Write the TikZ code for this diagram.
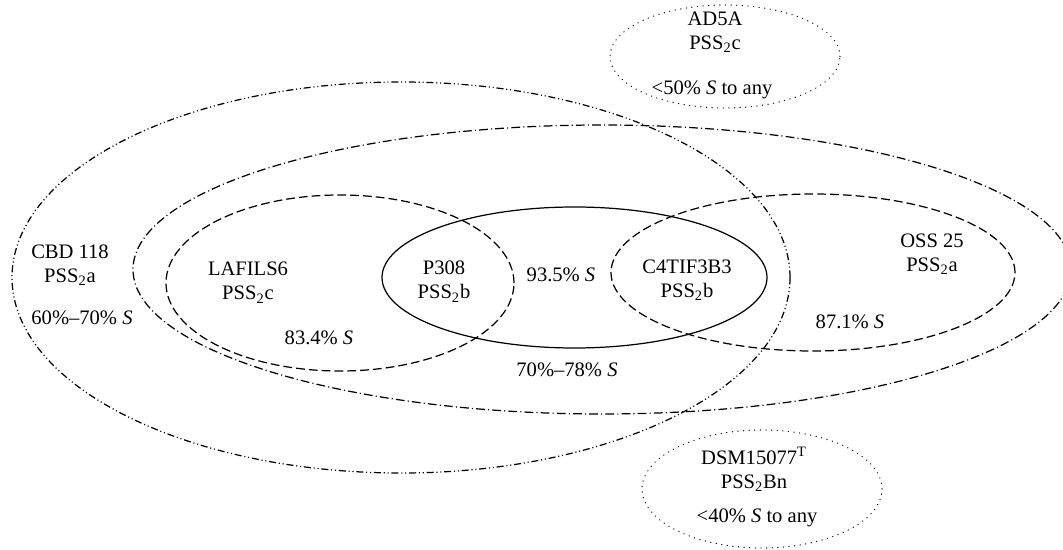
\documentclass[tikz,border=0pt]{standalone}
\usepackage{fontspec}
\setmainfont{Liberation Serif}
\usepackage{tikz}
\tikzstyle{strain} = [align=center, inner sep=0pt, font=\fontsize{11.7}{13.8}\selectfont]
\tikzstyle{solidset} = [line width=0.7pt]
\tikzstyle{dashset} = [line width=0.7pt, dash pattern=on 5pt off 2.3pt]
\tikzstyle{dotset} = [line width=0.7pt, line cap=round, dash pattern=on 0.1pt off 3.1pt]
\tikzstyle{dashdotset} = [line width=0.7pt, dash pattern=on 5pt off 1.8pt on 0.6pt off 1.8pt]
\tikzstyle{dashdotdotset} = [line width=0.7pt, dash pattern=on 4pt off 1.6pt on 0.6pt off 1.6pt on 0.6pt off 1.6pt]

\begin{document}
\begin{tikzpicture}
  \useasboundingbox (0,0) rectangle (21.26,-11);
  \clip (0,0) rectangle (21.26,-11);

  % sets
  \draw[dashdotdotset] (8.02,-5.55) ellipse [x radius=7.78cm, y radius=3.91cm];
  \draw[dashdotset] (12.04,-5.39) ellipse [x radius=9.38cm, y radius=2.89cm];
  \draw[dashset] (6.80,-5.66) ellipse [x radius=3.48cm, y radius=1.76cm];
  \draw[solidset] (11.49,-5.55) ellipse [x radius=3.85cm, y radius=1.41cm];
  \draw[dashset] (16.26,-5.45) ellipse [x radius=4.04cm, y radius=1.57cm];
  \draw[dotset] (14.50,-1.13) ellipse [x radius=2.30cm, y radius=1.03cm];
  \draw[dotset] (15.24,-9.78) ellipse [x radius=2.40cm, y radius=1.18cm];

  % strains
  \node[strain] (CBD) at (1.40,-5.30) {CBD 118\\PSS\textsubscript{2}a};
  \node[strain] (CBD_S) at (1.64,-6.36) {60\%--70\% \textit{S}};
  \node[strain] (LAF) at (4.96,-5.65) {LAFILS6\\PSS\textsubscript{2}c};
  \node[strain] (LAF_S) at (6.38,-6.76) {83.4\% \textit{S}};
  \node[strain] (P308) at (8.88,-5.63) {P308\\PSS\textsubscript{2}b};
  \node[strain] (P308_S) at (11.22,-5.50) {93.5\% \textit{S}};
  \node[strain] (C4T) at (13.74,-5.60) {C4TIF3B3\\PSS\textsubscript{2}b};
  \node[strain] (ALL_S) at (11.34,-7.40) {70\%--78\% \textit{S}};
  \node[strain] (OSS) at (18.64,-5.08) {OSS 25\\PSS\textsubscript{2}a};
  \node[strain] (OSS_S) at (17.00,-6.44) {87.1\% \textit{S}};
  \node[strain] (AD5A) at (14.30,-0.65) {AD5A\\PSS\textsubscript{2}c};
  \node[strain] (AD5A_S) at (14.24,-1.80) {<50\% \textit{S} to any};
  \node[strain] (DSM) at (15.08,-9.39) {DSM15077\textsuperscript{T}\\PSS\textsubscript{2}Bn};
  \node[strain] (DSM_S) at (15.14,-10.36) {<40\% \textit{S} to any};
\end{tikzpicture}
\end{document}
